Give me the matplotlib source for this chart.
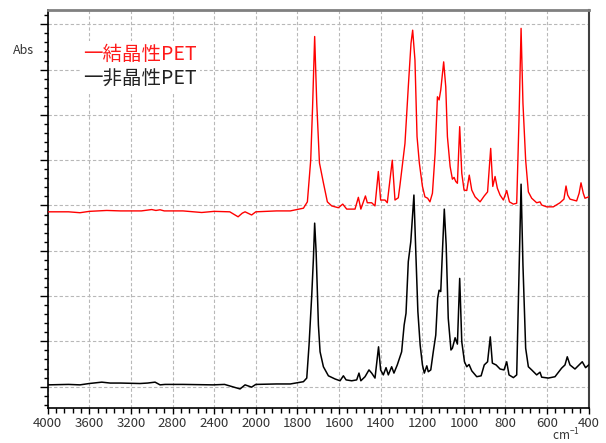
import numpy as np
import matplotlib
matplotlib.use('Agg')
import matplotlib.pyplot as plt
from matplotlib.ticker import FixedLocator, NullFormatter

plt.rcParams['font.family'] = ['Noto Sans CJK JP', 'DejaVu Sans']
plt.rcParams['mathtext.default'] = 'regular'

# 結晶性PET (red, offset upward)
wn_cry = [4000, 3800, 3690, 3600, 3433, 3300, 3100, 3000, 2960, 2920, 2880, 2700,
          2520, 2400, 2250, 2170, 2130, 2103, 2040, 2000, 1900, 1834, 1771, 1752,
          1736, 1727, 1717, 1707, 1694, 1675, 1656, 1635, 1603, 1582, 1563, 1523,
          1507, 1495, 1473, 1464, 1443, 1427, 1411, 1400, 1379, 1368, 1344, 1331,
          1315, 1307, 1283, 1267, 1254, 1246, 1235, 1225, 1214, 1199, 1187, 1174,
          1163, 1151, 1138, 1127, 1119, 1111, 1097, 1087, 1079, 1066, 1055, 1047,
          1039, 1031, 1020, 1010, 999, 986, 974, 962, 946, 922, 902, 886, 871, 861,
          850, 839, 826, 810, 794, 781, 762, 746, 735, 725, 716, 703, 690, 674, 650,
          634, 626, 602, 570, 538, 519, 509, 501, 490, 458, 446, 437, 426, 418, 400]
abs_cry = [3.86, 3.86, 3.84, 3.87, 3.89, 3.88, 3.88, 3.91, 3.89, 3.905, 3.88, 3.88,
           3.845, 3.87, 3.86, 3.75, 3.83, 3.86, 3.79, 3.86, 3.88, 3.88, 3.94, 4.08,
           5.00, 6.18, 7.73, 6.26, 4.94, 4.50, 4.08, 3.99, 3.95, 4.03, 3.92, 3.92,
           4.18, 3.92, 4.21, 4.06, 4.06, 3.99, 4.75, 4.12, 4.12, 4.06, 5.00, 4.12,
           4.17, 4.45, 5.37, 6.62, 7.58, 7.87, 7.21, 5.52, 4.94, 4.42, 4.19, 4.16,
           4.08, 4.27, 5.16, 6.40, 6.33, 6.55, 7.17, 6.62, 5.52, 4.86, 4.58, 4.62,
           4.53, 4.49, 5.74, 4.71, 4.34, 4.33, 4.67, 4.34, 4.19, 4.08, 4.21, 4.30, 5.26, 4.42,
           4.64, 4.38, 4.23, 4.12, 4.33, 4.08, 4.03, 4.05, 5.89, 7.91, 6.26, 5.00, 4.30, 4.16, 4.06,
           4.08, 4.01, 3.97, 3.97, 4.06, 4.14, 4.43, 4.23, 4.14, 4.10, 4.27, 4.50, 4.27, 4.16, 4.19]

# 非晶性PET (black)
wn_amo = [4000, 3800, 3690, 3600, 3480, 3400, 3300, 3113, 3040, 2968, 2920, 2872,
          2700, 2410, 2300, 2151, 2103, 2040, 2000, 1900, 1834, 1771, 1755, 1744,
          1731, 1723, 1717, 1710, 1699, 1691, 1675, 1651, 1619, 1595, 1579, 1566,
          1539, 1515, 1504, 1495, 1475, 1456, 1443, 1427, 1410, 1400, 1387, 1374,
          1363, 1347, 1336, 1320, 1299, 1287, 1278, 1267, 1255, 1240, 1231, 1221,
          1210, 1199, 1190, 1178, 1171, 1159, 1147, 1135, 1126, 1119, 1111, 1103,
          1094, 1085, 1075, 1062, 1055, 1042, 1031, 1020, 1010, 997, 986, 975, 962,
          938, 917, 902, 886, 873, 863, 845, 826, 807, 794, 783, 762, 746, 738, 725,
          716, 703, 690, 674, 650, 634, 626, 594, 562, 530, 514, 503, 490, 466, 431,
          415, 400]
abs_amo = [0.04, 0.05, 0.04, 0.07, 0.10, 0.08, 0.08, 0.07, 0.08, 0.10, 0.04, 0.05,
           0.05, 0.04, 0.05, -0.05, 0.04, -0.01, 0.05, 0.06, 0.06, 0.11, 0.19, 0.92,
           2.02, 2.83, 3.61, 2.98, 1.36, 0.77, 0.44, 0.24, 0.17, 0.13, 0.24, 0.15,
           0.13, 0.15, 0.30, 0.13, 0.22, 0.37, 0.30, 0.19, 0.88, 0.37, 0.26, 0.42,
           0.26, 0.44, 0.30, 0.48, 0.77, 1.36, 1.62, 2.76, 3.20, 4.23, 2.98, 1.66,
           0.92, 0.48, 0.30, 0.46, 0.33, 0.37, 0.77, 1.14, 1.95, 2.13, 2.10, 2.98,
           3.92, 3.13, 1.51, 0.81, 0.85, 1.08, 0.94, 2.39, 0.99, 0.55, 0.44, 0.49, 0.35,
           0.22, 0.24, 0.48, 0.55, 1.10, 0.52, 0.48, 0.39, 0.37, 0.55, 0.26, 0.20, 0.26, 1.88, 4.47,
           2.69, 0.85, 0.44, 0.37, 0.26, 0.32, 0.21, 0.19, 0.22, 0.41, 0.48, 0.66, 0.48, 0.39, 0.55,
           0.42, 0.48]

major_x = [4000, 3600, 3200, 2800, 2400, 2000, 1800, 1600, 1400, 1200, 1000, 800, 600, 400]


# 2000 cm-1 以下は横軸を2倍に拡大
def fwd(x):
    x = np.asarray(x, dtype=float)
    return np.where(x >= 2000, x, 2 * x - 2000)


def inv(x):
    x = np.asarray(x, dtype=float)
    return np.where(x >= 2000, x, (x + 2000) / 2)


fig = plt.figure(figsize=(6.06, 4.43), dpi=100)
ax = fig.add_axes([47.7 / 606, 35.3 / 443, 541 / 606, 397.7 / 443])
ax.set_xscale('function', functions=(fwd, inv))

ax.plot(wn_cry, abs_cry, color='#ff0000', lw=1.0, zorder=3)
ax.plot(wn_amo, abs_amo, color='#000000', lw=1.1, zorder=3)

ax.set_xlim(4000, 400)
ax.set_ylim(-0.464, 8.315)

minor_x = list(np.arange(4000, 2000, -80)) + list(np.arange(2000, 400, -40))
ax.xaxis.set_major_locator(FixedLocator(major_x))
ax.xaxis.set_minor_locator(FixedLocator(minor_x))
ax.set_xticklabels([str(v) for v in major_x])
ax.xaxis.set_minor_formatter(NullFormatter())

ax.yaxis.set_major_locator(FixedLocator(range(0, 9)))
ax.yaxis.set_minor_locator(FixedLocator(np.arange(-0.4, 8.3, 0.2)))
ax.set_yticklabels([])

ax.tick_params(axis='x', which='major', direction='out', length=4.5, width=1, labelsize=9.5,
               pad=2.5, labelcolor='#333333')
ax.tick_params(axis='x', which='minor', direction='out', length=3.5, width=1)
ax.tick_params(axis='y', which='major', direction='out', length=6, width=1)
ax.tick_params(axis='y', which='minor', direction='out', length=3, width=1)

ax.grid(True, which='major', color='#b8b8b8', linestyle=(0, (3, 2)), linewidth=0.8, zorder=1)

for s in ['left', 'bottom']:
    ax.spines[s].set_color('#000')
    ax.spines[s].set_linewidth(1.2)
ax.spines['top'].set_color('#808080')
ax.spines['top'].set_linewidth(2)
ax.spines['right'].set_color('#404040')
ax.spines['right'].set_linewidth(1.5)

# 凡例
ax.text(0.066, 0.889, '一結晶性PET', transform=ax.transAxes, color='#ff1a1a', fontsize=14,
        va='center', ha='left', zorder=4,
        bbox=dict(facecolor='white', edgecolor='none', pad=2))
ax.text(0.066, 0.8265, '一非晶性PET', transform=ax.transAxes, color='#222222', fontsize=14,
        va='center', ha='left', zorder=4,
        bbox=dict(facecolor='white', edgecolor='none', pad=2))

fig.text(24 / 606, 1 - 51 / 443, 'Abs', fontsize=9, color='#333333', ha='center', va='center')
fig.text(566 / 606, 1 - 440 / 443, 'cm$^{-1}$', fontsize=8.5, color='#333333', ha='center', va='baseline')

fig.savefig('out.png', dpi=100)
